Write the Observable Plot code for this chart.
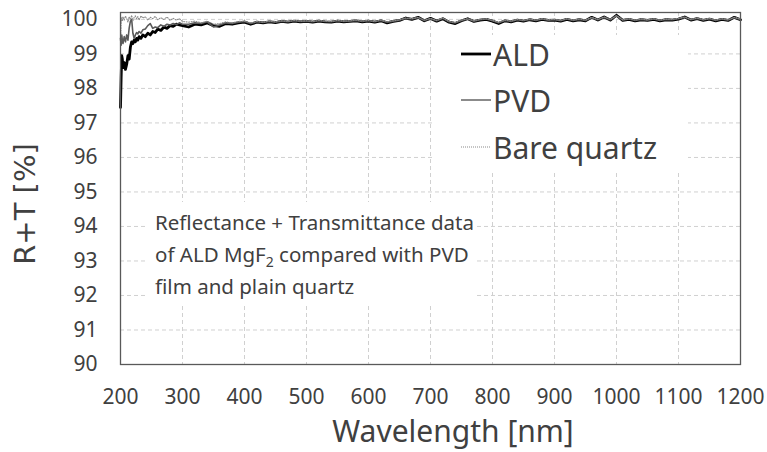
<!DOCTYPE html>
<html>
<head>
<meta charset="utf-8">
<script src="https://cdn.jsdelivr.net/npm/d3@7"></script>
<script src="https://cdn.jsdelivr.net/npm/@observablehq/plot@0.6"></script>
<style>
  body { margin: 0; background: #fff; }
  #wrap { position: relative; width: 767px; height: 452px; font-family: "Noto Sans", sans-serif; color: #404040; overflow: hidden; }
  .box { position: absolute; background: #fff; }
  .title { position: absolute; font-size: 30px; line-height: 1.2; color: #404040; white-space: nowrap; }
  .legrow { position: absolute; display: flex; align-items: center; height: 40px; font-size: 30px; white-space: nowrap; }
  .note { position: absolute; font-size: 20.5px; line-height: 32px; white-space: nowrap; }
  .note sub { font-size: 14px; line-height: 0; vertical-align: -5px; }
</style>
</head>
<body>
<div id="wrap"></div>
<script>
const wavelength = [200, 201, 202, 203, 204, 206, 208, 210, 212, 214, 216, 218, 220, 222, 224, 226, 228, 230, 233, 236, 240, 244, 248, 252, 256, 260, 265, 270, 275, 280, 285, 290, 295,
  300, 310, 320, 330, 340, 350, 360, 370, 380, 390, 400, 410, 420, 430, 440, 450, 460, 470, 480, 490,
  500, 510, 520, 530, 540, 550, 560, 570, 580, 590, 600, 610, 620, 630, 640, 650, 660, 670, 680, 690,
  700, 710, 720, 730, 740, 750, 760, 770, 780, 790, 800, 810, 820, 830, 840, 850, 860, 870, 880, 890,
  900, 910, 920, 930, 940, 950, 960, 970, 980, 990, 1000, 1010, 1020, 1030, 1040, 1050, 1060, 1070, 1080, 1090,
  1100, 1110, 1120, 1130, 1140, 1150, 1160, 1170, 1180, 1190, 1200];

const aldValues = [97.45, 98.30, 98.95, 98.85, 98.60, 98.75, 98.55, 98.70, 98.95, 98.85, 99.20, 99.35, 99.30, 99.40, 99.35, 99.45, 99.40, 99.50, 99.45, 99.55, 99.50, 99.60, 99.55, 99.65, 99.62, 99.72, 99.68, 99.78, 99.74, 99.82, 99.80, 99.86, 99.84,
  99.82, 99.78, 99.86, 99.84, 99.90, 99.82, 99.80, 99.88, 99.86, 99.90, 99.92, 99.86, 99.92, 99.90, 99.93, 99.91, 99.94, 99.92, 99.95, 99.93,
  99.94, 99.92, 99.95, 99.93, 99.92, 99.95, 99.93, 99.94, 99.96, 99.93, 99.95, 99.92, 99.96, 99.90, 99.94, 99.97, 100.04, 100.00, 100.06, 99.96,
  100.03, 99.95, 100.02, 99.92, 99.88, 99.96, 100.02, 99.94, 99.98, 100.00, 99.95, 99.88, 99.96, 99.93, 99.98, 99.95, 99.99, 99.96, 100.00, 99.97,
  99.98, 99.95, 100.00, 99.96, 99.99, 99.96, 100.06, 99.98, 100.07, 99.98, 100.12, 99.97, 100.00, 99.96, 99.99, 99.97, 100.00, 99.96, 99.99, 99.98,
  100.01, 100.07, 99.98, 100.02, 99.97, 100.01, 99.96, 100.00, 99.97, 100.06, 99.99];

const pvdValues = [99.45, 99.25, 99.55, 99.40, 99.30, 99.50, 99.35, 99.55, 99.40, 99.75, 99.95, 100.00, 99.60, 99.45, 99.55, 99.62, 99.58, 99.65, 99.60, 99.70, 99.72, 99.82, 99.88, 99.74, 99.78, 99.76, 99.84, 99.80, 99.86, 99.84, 99.88, 99.85, 99.90,
  99.86, 99.86, 99.90, 99.88, 99.93, 99.78, 99.84, 99.90, 99.88, 99.92, 99.94, 99.88, 99.93, 99.91, 99.94, 99.92, 99.95, 99.93, 99.96, 99.94,
  99.95, 99.93, 99.96, 99.94, 99.93, 99.96, 99.94, 99.95, 99.97, 99.94, 99.96, 99.93, 99.97, 99.92, 99.95, 99.98, 100.03, 100.01, 100.05, 99.97,
  100.02, 99.96, 100.03, 99.93, 99.90, 99.97, 100.01, 99.95, 99.99, 100.01, 99.96, 99.90, 99.97, 99.94, 99.99, 99.96, 100.00, 99.97, 100.01, 99.98,
  99.99, 99.96, 100.01, 99.97, 100.00, 99.97, 100.05, 99.99, 100.06, 99.99, 100.10, 99.98, 100.01, 99.97, 100.00, 99.98, 100.01, 99.97, 100.00, 99.99,
  100.02, 100.06, 99.99, 100.03, 99.98, 100.02, 99.97, 100.01, 99.98, 100.05, 100.00];

const bareValues = [99.30, 99.90, 100.05, 99.95, 100.08, 99.98, 100.10, 100.02, 99.92, 100.08, 100.00, 100.12, 99.96, 100.06, 100.10, 100.02, 100.08, 99.98, 100.10, 100.04, 100.08, 99.98, 100.06, 100.02, 100.09, 99.99, 100.05, 100.00, 100.07, 99.97, 100.03, 99.98, 100.02,
  99.94, 99.92, 99.95, 99.90, 99.95, 99.86, 99.88, 99.93, 99.90, 99.94, 99.95, 99.90, 99.94, 99.92, 99.95, 99.93, 99.96, 99.94, 99.97, 99.95,
  99.96, 99.94, 99.97, 99.95, 99.94, 99.97, 99.95, 99.96, 99.98, 99.95, 99.97, 99.94, 99.98, 99.93, 99.96, 99.99, 100.04, 100.02, 100.06, 99.98,
  100.03, 99.97, 100.04, 99.94, 99.91, 99.98, 100.02, 99.96, 100.00, 100.02, 99.97, 99.91, 99.98, 99.95, 100.00, 99.97, 100.01, 99.98, 100.02, 99.99,
  100.00, 99.97, 100.02, 99.98, 100.01, 99.98, 100.06, 100.00, 100.07, 100.00, 100.11, 99.99, 100.02, 99.98, 100.01, 99.99, 100.02, 99.98, 100.01, 100.00,
  100.03, 100.07, 100.00, 100.04, 99.99, 100.03, 99.98, 100.02, 99.99, 100.06, 100.01];

const seriesNames = ["ALD", "PVD", "Bare quartz"];
const xTicks = [200, 300, 400, 500, 600, 700, 800, 900, 1000, 1100, 1200];
const yTicks = [90, 91, 92, 93, 94, 95, 96, 97, 98, 99, 100];
const xTitle = "Wavelength [nm]";
const yTitle = "R+T [%]";
const noteLines = ["Reflectance + Transmittance data", "of ALD MgF<sub>2</sub> compared with PVD", "film and plain quartz"];

const toRows = (vals) => wavelength.map((w, i) => ({ w, v: vals[i] }));
const ald = toRows(aldValues), pvd = toRows(pvdValues), bare = toRows(bareValues);

const chart = Plot.plot({
  width: 767,
  height: 452,
  marginLeft: 120,
  marginRight: 27,
  marginTop: 12,
  marginBottom: 88,
  style: { fontFamily: "'Noto Sans', sans-serif", color: "#404040", background: "#fff" },
  x: { domain: [200, 1200] },
  y: { domain: [90, 100.2] },
  marks: [
    Plot.gridX(xTicks.slice(1, -1), { stroke: "#d0d0d0", strokeOpacity: 1, strokeDasharray: "4,3" }),
    Plot.gridY(yTicks.slice(1), { stroke: "#d0d0d0", strokeOpacity: 1, strokeDasharray: "4,3" }),
    Plot.axisX({ ticks: xTicks, tickSize: 0, tickPadding: 25, fontSize: 21, label: null, tickFormat: d => String(d) }),
    Plot.axisY({ ticks: yTicks, tickSize: 0, tickPadding: 23, fontSize: 21, label: null, tickFormat: d => String(d) }),
    Plot.line(ald, { x: "w", y: "v", stroke: "#000", strokeWidth: 2.8 }),
    Plot.line(pvd, { x: "w", y: "v", stroke: "#5a5a5a", strokeWidth: 1.6 }),
    Plot.line(bare, { x: "w", y: "v", stroke: "#8a8a8a", strokeWidth: 1.1, strokeDasharray: "1,1.5" }),
    Plot.frame({ stroke: "#595959", strokeWidth: 1.3 })
  ]
});

const wrap = document.getElementById("wrap");
wrap.appendChild(chart);

function add(html, cls, css) {
  const d = document.createElement("div");
  d.className = cls;
  d.innerHTML = html;
  Object.assign(d.style, css);
  wrap.appendChild(d);
  return d;
}

// legend background + rows
add("", "box", { left: "432px", top: "35px", width: "256px", height: "135px" });
const legendStyles = [
  { stroke: "#000", width: 2.8, dash: "" },
  { stroke: "#5a5a5a", width: 1.4, dash: "" },
  { stroke: "#8a8a8a", width: 1.1, dash: "1,1" }
];
const legendCenters = [54, 100, 147];
seriesNames.forEach((name, i) => {
  const s = legendStyles[i];
  const sw = `<svg width="30" height="6" style="display:block;margin-right:2px"><line x1="0" x2="30" y1="3" y2="3" stroke="${s.stroke}" stroke-width="${s.width}" stroke-dasharray="${s.dash}"/></svg>`;
  add(sw + `<span>${name}</span>`, "legrow", { left: "461px", top: (legendCenters[i] - 20) + "px" });
});

// annotation
add("", "box", { left: "145px", top: "202px", width: "330px", height: "104px" });
add(noteLines.join("<br>"), "note", { left: "155px", top: "206px" });

// axis titles
add(xTitle, "title", { left: "453px", top: "431px", transform: "translate(-50%,-50%)" });
add(yTitle, "title", { left: "25px", top: "204px", fontFamily: "'DejaVu Sans', sans-serif", fontSize: "29px", transform: "translate(-50%,-50%) rotate(-90deg)" });
</script>
</body>
</html>
